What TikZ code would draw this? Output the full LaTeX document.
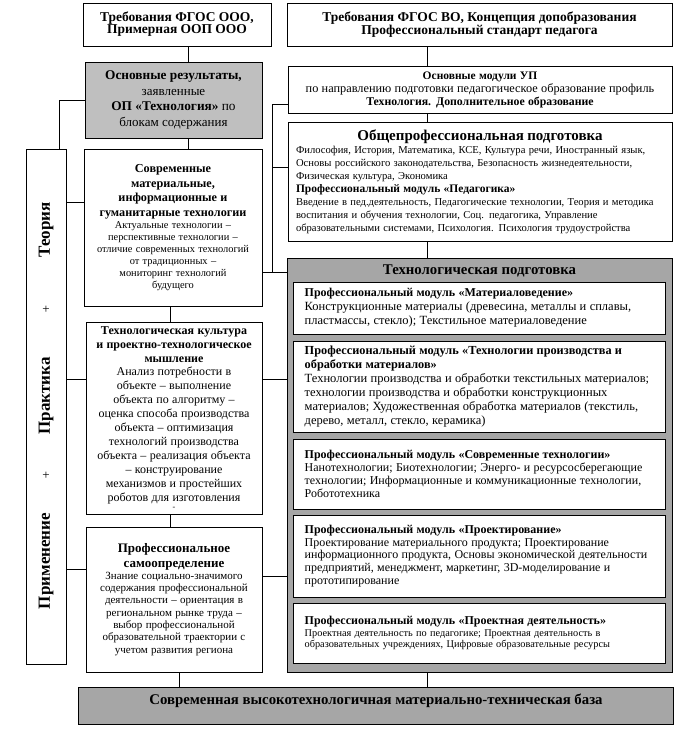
\documentclass[tikz,border=0pt]{standalone}
\usepackage{fontspec}
\setmainfont{Liberation Serif}
\definecolor{gA}{RGB}{191,191,191}
\definecolor{gB}{RGB}{166,166,166}
\newcommand\fs[2]{\fontsize{#1}{#2}\selectfont}
\tikzset{
  box/.style={draw, line width=1pt, inner sep=0pt, anchor=center},
  ln/.style={line width=1pt},
  vt/.style={rotate=90, inner sep=0pt, font=\fs{17}{20}\bfseries},
  pl/.style={inner sep=0pt, font=\fs{13}{15}},
  mod/.style={box, fill=white, minimum width=372},
  modtxt/.style={anchor=west, inner sep=0pt, text width=362, align=left},
}
\begin{document}
\begin{tikzpicture}[x=1pt,y=-1pt]
\useasboundingbox (0,0) rectangle (679,729);

% top boxes
\node[box, minimum width=188, minimum height=43, text width=184, align=center] (b1) at (177,24.5)
  {\fs{13.5}{17}\bfseries Требования ФГОС ООО,\\Примерная ООП ООО};
\node[box, minimum width=385, minimum height=43, text width=380, align=center] (b2) at (479.5,24.5)
  {\fs{13.5}{17}\bfseries Требования ФГОС ВО, Концепция допобразования\\Профессиональный стандарт педагога};

% results (gray)
\node[box, fill=gA, minimum width=177, minimum height=76, text width=172, align=center] (res) at (173.5,100)
  {{\fs{13.3}{15.5}\bfseries Основные результаты,\par}
   {\fs{13}{15.5}заявленные\par}
   {\fs{13.3}{15.5}\textbf{ОП «Технология»} по\par}
   {\fs{13}{15.5}блокам содержания\par}};

% modules UP
\node[box, minimum width=384, minimum height=47, text width=380, align=center] (modUP) at (480,89.5)
  {{\fs{11.5}{13}\bfseries Основные модули УП\par}
   {\fs{12.3}{13}по направлению подготовки педагогическое образование профиль\par}
   {\fs{11.8}{13}\bfseries Технология. Дополнительное образование\par}};

% general professional
\node[box, minimum width=384, minimum height=119, text width=368, align=left] (obsh) at (480,181.5)
  {{\centering\fs{15}{17}\bfseries Общепрофессиональная подготовка\par}
   {\fs{10.6}{13}Философия, История, Математика, КСЕ, Культура речи, Иностранный язык,\\Основы российского законодательства, Безопасность жизнедеятельности,\\Физическая культура, Экономика\par}
   {\fs{11.5}{13.5}\bfseries Профессиональный модуль «Педагогика»\par}
   {\fs{10.6}{12.8}Введение в пед.деятельность, Педагогические технологии, Теория и методика\\воспитания и обучения технологии, Соц. педагогика, Управление\\образовательными системами, Психология. Психология трудоустройства\par}};

% left vertical box
\node[box, minimum width=40, minimum height=515] (lv) at (46,406.5) {};
\node[vt] (tA) at (46,230) {Теория};
\node[pl] (p1) at (46,310) {+};
\node[vt] (tB) at (46,396) {Практика};
\node[pl] (p2) at (46,476) {+};
\node[vt] (tC) at (46,561) {Применение};

% middle boxes
\node[box, minimum width=178, minimum height=157, text width=174, align=center] (sovr) at (173,227.5)
  {{\fs{12.2}{14.5}\bfseries Современные\\материальные,\\информационные и\\гуманитарные технологии\par}
   {\fs{10.4}{12}Актуальные технологии –\\перспективные технологии –\\отличие современных технологий\\от традиционных –\\мониторинг технологий\\будущего\par}};

\node[box, minimum width=176, minimum height=192, text width=174, align=center] (kult) at (174,418)
  {{\fs{12}{13.6}\bfseries Технологическая культура\\и проектно-технологическое\\мышление\par}
   {\fs{12}{13.9}Анализ потребности в\\объекте – выполнение\\объекта по алгоритму –\\оценка способа производства\\объекта – оптимизация\\технологий производства\\объекта – реализация объекта\\– конструирование\\механизмов и простейших\\роботов для изготовления\par}
   {\fs{8}{8}-\par}};

\node[box, minimum width=176, minimum height=145, text width=174, align=center] (samo) at (174,599.5)
  {{\fs{13}{14.5}\bfseries Профессиональное\\самоопределение\par}
   {\fs{11}{12.3}Знание социально-значимого\\содержания профессиональной\\деятельности – ориентация в\\региональном рынке труда –\\выбор профессиональной\\образовательной траектории с\\учетом развития региона\par}};

% technological preparation (gray outer)
\node[box, fill=gB, minimum width=385, minimum height=414] (tech) at (479.5,465) {};
\node[inner sep=0pt, font=\fs{14.8}{16}\bfseries] (techT) at (479.5,271) {Технологическая подготовка};

\node[mod, minimum height=52] (m1) at (479,308) {};
\node[modtxt] (m1t) at ([xshift=12pt]m1.west)
  {{\fs{12}{14}\bfseries Профессиональный модуль «Материаловедение»\par}
   {\fs{12.5}{14}Конструкционные материалы (древесина, металлы и сплавы,\\пластмассы, стекло); Текстильное материаловедение\par}};
\node[mod, minimum height=91] (m2) at (479,386.5) {};
\node[modtxt] (m2t) at ([xshift=12pt]m2.west)
  {{\fs{12.3}{14}\bfseries Профессиональный модуль «Технологии производства и\\обработки материалов»\par}
   {\fs{12.5}{14}Технологии производства и обработки текстильных материалов;\\технологии производства и обработки конструкционных\\материалов; Художественная обработка материалов (текстиль,\\дерево, металл, стекло, керамика)\par}};
\node[mod, minimum height=70] (m3) at (479,474) {};
\node[modtxt] (m3t) at ([xshift=12pt]m3.west)
  {{\fs{12}{13.5}\bfseries Профессиональный модуль «Современные технологии»\par}
   {\fs{12}{13.2}Нанотехнологии; Биотехнологии; Энерго- и ресурсосберегающие\\технологии; Информационные и коммуникационные технологии,\\Робототехника\par}};
\node[mod, minimum height=82] (m4) at (479,556) {};
\node[modtxt] (m4t) at ([xshift=12pt]m4.west)
  {{\fs{12}{13.5}\bfseries Профессиональный модуль «Проектирование»\par}
   {\fs{12}{12.8}Проектирование материального продукта; Проектирование\\информационного продукта, Основы экономической деятельности\\предприятий, менеджмент, маркетинг, 3D-моделирование и\\прототипирование\par}};
\node[mod, minimum height=60] (m5) at (479,633) {};
\node[modtxt] (m5t) at ([xshift=12pt]m5.west)
  {{\fs{12}{14}\bfseries Профессиональный модуль «Проектная деятельность»\par}
   {\fs{10.3}{11.5}Проектная деятельность по педагогике; Проектная деятельность в\\образовательных учреждениях, Цифровые образовательные ресурсы\par}};

% base
\node[box, fill=gB, minimum width=595, minimum height=37] (base) at (375.5,705.5) {};
\node[inner sep=0pt, font=\fs{14.8}{16}\bfseries] (baseT) at (376,701)
  {Современная высокотехнологичная материально-техническая база};

% connectors
\draw[ln] (b1.south -| 188,0) -- (res.north -| 188,0);
\draw[ln] (res.south -| 188,0) -- (sovr.north -| 188,0);
\draw[ln] (res.west) -| (lv.north -| 59,0);
\draw[ln] (lv.east |- 0,202) -- (sovr.west |- 0,202);
\draw[ln] (lv.east |- 0,379) -- (kult.west |- 0,379);
\draw[ln] (lv.east |- 0,569) -- (samo.west |- 0,569);
\draw[ln] (sovr.south -| 170,0) -- (kult.north -| 170,0);
\draw[ln] (kult.south -| 170,0) -- (samo.north -| 170,0);
\draw[ln] (samo.south -| 179,0) -- (base.north -| 179,0);

\draw[ln] (b2.south -| 427,0) -- (modUP.north -| 427,0);
\draw[ln] (modUP.south -| 427,0) -- (obsh.north -| 427,0);
\draw[ln] (obsh.south -| 427,0) -- (tech.north -| 427,0);
\draw[ln] (tech.south -| 427,0) -- (base.north -| 427,0);

\coordinate (jv) at (272,272);
\draw[ln] (modUP.west |- 0,104) -| (jv);
\draw[ln] (jv |- 0,167) -- (obsh.west |- 0,167);
\draw[ln] (sovr.east |- jv) -- (tech.west |- jv);
\draw[ln] (kult.east |- 0,379) -- (tech.west |- 0,379);
\draw[ln] (samo.east |- 0,576) -- (tech.west |- 0,576);
\end{tikzpicture}
\end{document}
